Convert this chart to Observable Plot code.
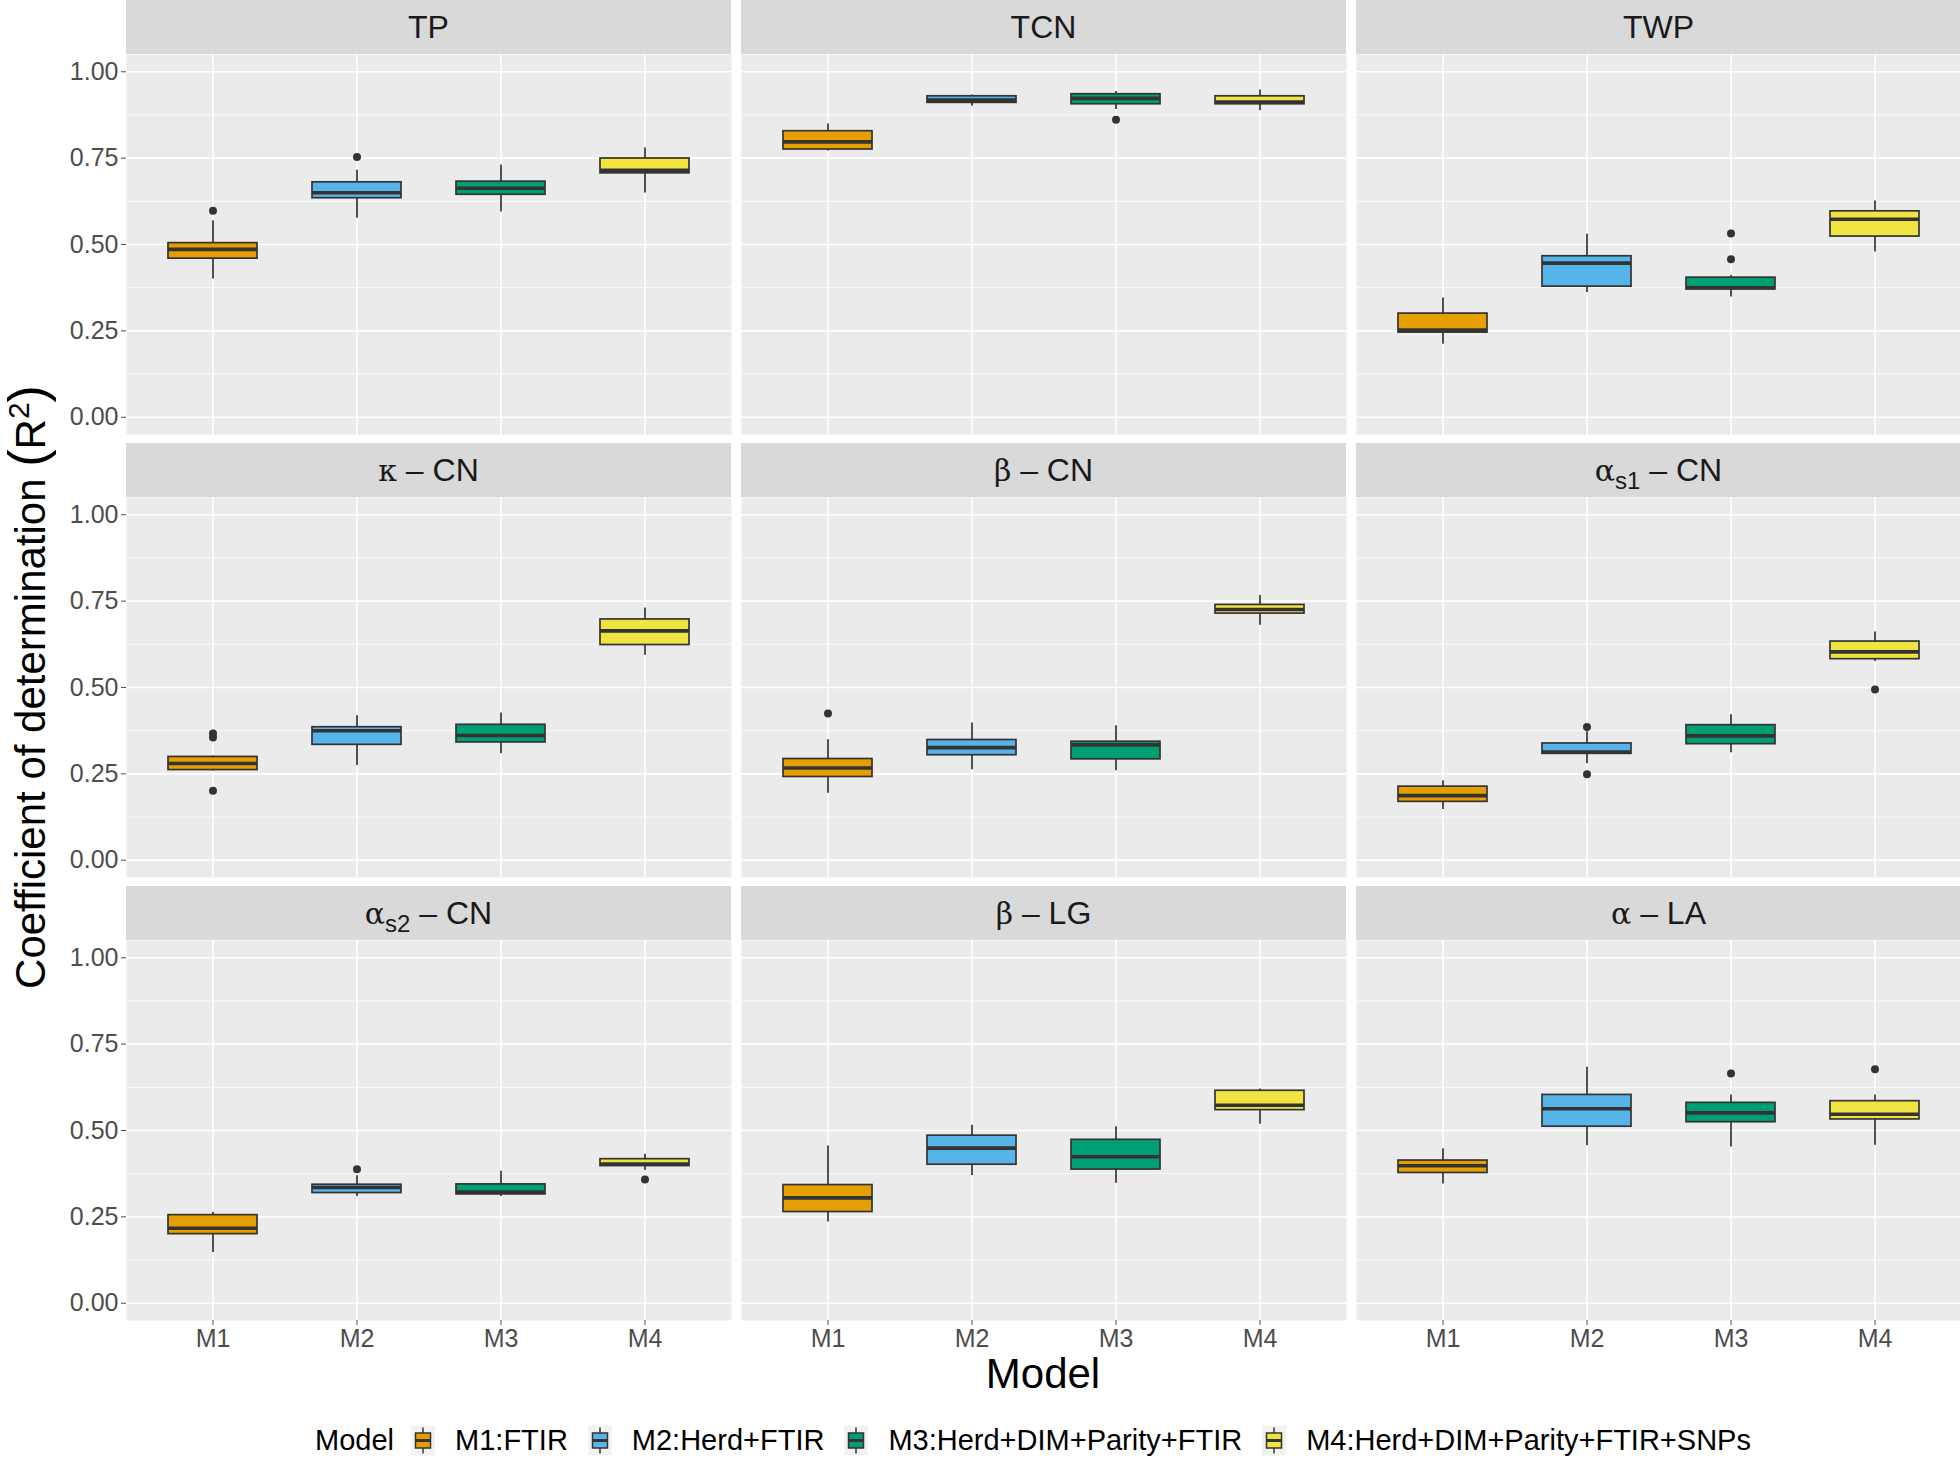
<!DOCTYPE html>
<html>
<head>
<meta charset="utf-8">
<script src="https://cdn.jsdelivr.net/npm/d3@7"></script>
<script src="https://cdn.jsdelivr.net/npm/@observablehq/plot@0.6"></script>
<style>
  html, body { margin: 0; padding: 0; background: #fff; }
  body { width: 1960px; height: 1458px; overflow: hidden; font-family: "Liberation Sans", Arial, Helvetica, sans-serif; }
  #root { position: relative; width: 1960px; height: 1458px; }
  .strip { position: absolute; background: #D9D9D9; color: #1A1A1A; font-size: 32px;
           display: flex; align-items: center; justify-content: center; }
  .strip .txt { display: inline-block; line-height: 1; }
  .strip .gk { font-family: "DejaVu Serif", "Liberation Serif", serif; font-size: 30px; }
  .strip sub { font-size: 24px; vertical-align: -8px; line-height: 0; }
  .panel { position: absolute; }
  .panel svg { overflow: visible; max-width: none; }
  .ytitle { position: absolute; left: 27px; top: 687px; transform: translate(-50%, -50%) rotate(-90deg);
            white-space: nowrap; font-size: 42px; color: #000; }
  .ytitle sup { font-size: 30px; vertical-align: 16px; line-height: 0; }
  .ytitle .par { font-size: 52px; }
  .xtitle { position: absolute; left: 1043px; top: 1374px; transform: translate(-50%, -50%);
            font-size: 42px; color: #000; }
  .legend { position: absolute; left: 126px; width: 1834px; top: 1440px; transform: translateY(-50%);
            display: flex; justify-content: center; align-items: center; font-size: 29px; color: #000; }
  .legend .ttl { margin-right: 17px; }
  .legend .key { width: 24px; height: 30px; background: #F2F2F2; margin-right: 20px; }
  .legend .lab { margin-right: 20px; }
</style>
</head>
<body>
<div id="root"></div>
<script>
// ---------------- data ----------------
const models = ["M1", "M2", "M3", "M4"];
const modelLabels = ["M1:FTIR", "M2:Herd+FTIR", "M3:Herd+DIM+Parity+FTIR", "M4:Herd+DIM+Parity+FTIR+SNPs"];
const colors = ["#E69F00", "#56B4E9", "#009E73", "#F0E442"];
const traits = ["TP", "TCN", "TWP", "κ-CN", "β-CN", "αs1-CN", "αs2-CN", "β-LG", "α-LA"];
// strip label pieces: [greek, subscript, rest]
const stripParts = [
  ["", "", "TP"], ["", "", "TCN"], ["", "", "TWP"],
  ["κ", "", " – CN"], ["β", "", " – CN"], ["α", "s1", " – CN"],
  ["α", "s2", " – CN"], ["β", "", " – LG"], ["α", "", " – LA"]
];
const yTicks = [0, 0.25, 0.5, 0.75, 1];
const yMinor = [0.125, 0.375, 0.625, 0.875];

// rows = traits (same order), columns = M1..M4
const whiskerLow = [
  [0.400, 0.576, 0.594, 0.649],
  [0.771, 0.900, 0.891, 0.887],
  [0.211, 0.361, 0.348, 0.478],
  [0.258, 0.274, 0.308, 0.593],
  [0.194, 0.262, 0.259, 0.680],
  [0.147, 0.279, 0.311, 0.575],
  [0.147, 0.309, 0.309, 0.384],
  [0.235, 0.370, 0.347, 0.518],
  [0.345, 0.456, 0.452, 0.457]
];
const q1 = [
  [0.459, 0.634, 0.644, 0.706],
  [0.775, 0.910, 0.906, 0.906],
  [0.245, 0.378, 0.370, 0.523],
  [0.261, 0.334, 0.341, 0.623],
  [0.241, 0.304, 0.292, 0.714],
  [0.169, 0.308, 0.336, 0.582],
  [0.200, 0.319, 0.315, 0.397],
  [0.264, 0.401, 0.387, 0.559],
  [0.377, 0.511, 0.524, 0.532]
];
const median = [
  [0.486, 0.650, 0.663, 0.715],
  [0.797, 0.918, 0.923, 0.912],
  [0.252, 0.446, 0.375, 0.573],
  [0.280, 0.375, 0.361, 0.664],
  [0.267, 0.326, 0.334, 0.726],
  [0.187, 0.313, 0.360, 0.603],
  [0.217, 0.335, 0.322, 0.403],
  [0.305, 0.449, 0.424, 0.573],
  [0.398, 0.563, 0.551, 0.547]
];
const q3 = [
  [0.504, 0.680, 0.682, 0.749],
  [0.828, 0.929, 0.935, 0.929],
  [0.300, 0.466, 0.404, 0.596],
  [0.299, 0.385, 0.392, 0.697],
  [0.293, 0.348, 0.343, 0.739],
  [0.213, 0.338, 0.391, 0.633],
  [0.255, 0.343, 0.344, 0.417],
  [0.342, 0.485, 0.473, 0.615],
  [0.413, 0.603, 0.580, 0.585]
];
const whiskerHigh = [
  [0.569, 0.715, 0.730, 0.779],
  [0.849, 0.933, 0.943, 0.947],
  [0.345, 0.530, 0.410, 0.626],
  [0.302, 0.418, 0.426, 0.730],
  [0.349, 0.397, 0.389, 0.766],
  [0.230, 0.372, 0.421, 0.661],
  [0.263, 0.369, 0.382, 0.431],
  [0.455, 0.515, 0.511, 0.620],
  [0.447, 0.683, 0.603, 0.603]
];
// outliers: [trait index, model index, value]
const outliers = [
  [0, 0, 0.598], [0, 1, 0.753],
  [1, 2, 0.861],
  [2, 2, 0.532], [2, 2, 0.457],
  [3, 0, 0.367], [3, 0, 0.355], [3, 0, 0.201],
  [4, 0, 0.425],
  [5, 1, 0.386], [5, 1, 0.249], [5, 3, 0.494],
  [6, 1, 0.388], [6, 3, 0.358],
  [8, 2, 0.665], [8, 3, 0.677]
];

// ---------------- layout ----------------
const root = document.getElementById("root");
const colX = [126, 741, 1356];
const rowY = [0, 443, 886];
const panelW = 605, stripH = 54, plotH = 380;
const FONT = '"Liberation Sans", Arial, Helvetica, sans-serif';

traits.forEach((t, i) => {
  const r = Math.floor(i / 3), c = i % 3;
  const strip = document.createElement("div");
  strip.className = "strip";
  Object.assign(strip.style, {left: colX[c] + "px", top: rowY[r] + "px", width: panelW + "px", height: stripH + "px"});
  const [g, s, rest] = stripParts[i];
  strip.innerHTML = '<span class="txt">' + (g ? `<span class="gk">${g}</span>` : "") + (s ? `<sub>${s}</sub>` : "") +
    `<span>${rest.replace(" – ", "&nbsp;–&nbsp;")}</span></span>`;
  root.appendChild(strip);

  const rows = models.map((m, j) => ({
    model: m, lo: whiskerLow[i][j], q1: q1[i][j], med: median[i][j], q3: q3[i][j], hi: whiskerHigh[i][j]
  }));
  const outs = outliers.filter(o => o[0] === i).map(o => ({model: models[o[1]], value: o[2]}));

  const marks = [
    Plot.frame({fill: "#EBEBEB", stroke: null}),
    Plot.ruleY(yMinor, {stroke: "#fff", strokeWidth: 0.8}),
    Plot.ruleY(yTicks, {stroke: "#fff", strokeWidth: 1.6}),
    Plot.ruleX(models, {stroke: "#fff", strokeWidth: 1.6}),
    Plot.ruleX(rows, {x: "model", y1: "lo", y2: "hi", stroke: "#333", strokeWidth: 1.7}),
    Plot.barY(rows, {x: "model", y1: "q1", y2: "q3", fill: "model", stroke: "#333", strokeWidth: 1.7, inset: 0}),
    Plot.tickY(rows, {x: "model", y: "med", stroke: "#333", strokeWidth: 3.6}),
    Plot.dot(outs, {x: "model", y: "value", r: 4, fill: "#333", stroke: null})
  ];
  if (c === 0) marks.push(Plot.axisY({ticks: yTicks, tickFormat: d3.format(".2f"), tickSize: 5, tickPadding: 3,
    fontSize: 25, color: "#4D4D4D", label: null}));
  if (r === 2) marks.push(Plot.axisX({tickSize: 5, tickPadding: 4, fontSize: 25, color: "#4D4D4D", label: null}));

  const chart = Plot.plot({
    width: panelW, height: plotH,
    marginTop: 0, marginRight: 0, marginBottom: 0, marginLeft: 0,
    style: {fontFamily: FONT, background: "transparent", overflow: "visible"},
    x: {type: "band", domain: models, paddingInner: 0.38, paddingOuter: 0.29, axis: r === 2 ? undefined : null},
    y: {domain: [-0.05, 1.05], axis: c === 0 ? undefined : null},
    color: {domain: models, range: colors},
    marks
  });
  const wrap = document.createElement("div");
  wrap.className = "panel";
  Object.assign(wrap.style, {left: colX[c] + "px", top: (rowY[r] + stripH) + "px", width: panelW + "px", height: plotH + "px"});
  wrap.appendChild(chart);
  root.appendChild(wrap);
});

// axis titles
const yt = document.createElement("div");
yt.className = "ytitle";
yt.innerHTML = 'Coefficient of determination <span class="par">(</span>R<sup>2</sup><span class="par">)</span>';
root.appendChild(yt);
const xt = document.createElement("div");
xt.className = "xtitle";
xt.textContent = "Model";
root.appendChild(xt);

// legend
const lg = document.createElement("div");
lg.className = "legend";
let html = '<span class="ttl">Model</span>';
modelLabels.forEach((lab, j) => {
  html += `<span class="key"><svg width="24" height="30" viewBox="0 0 24 30">
    <line x1="12" x2="12" y1="2" y2="28" stroke="#333" stroke-width="1.5"/>
    <rect x="4.5" y="7.5" width="15" height="15" fill="${colors[j]}" stroke="#333" stroke-width="1.5"/>
    <line x1="4.5" x2="19.5" y1="15" y2="15" stroke="#333" stroke-width="3"/></svg></span>` +
    `<span class="lab">${lab}</span>`;
});
lg.innerHTML = html;
root.appendChild(lg);
</script>
</body>
</html>
